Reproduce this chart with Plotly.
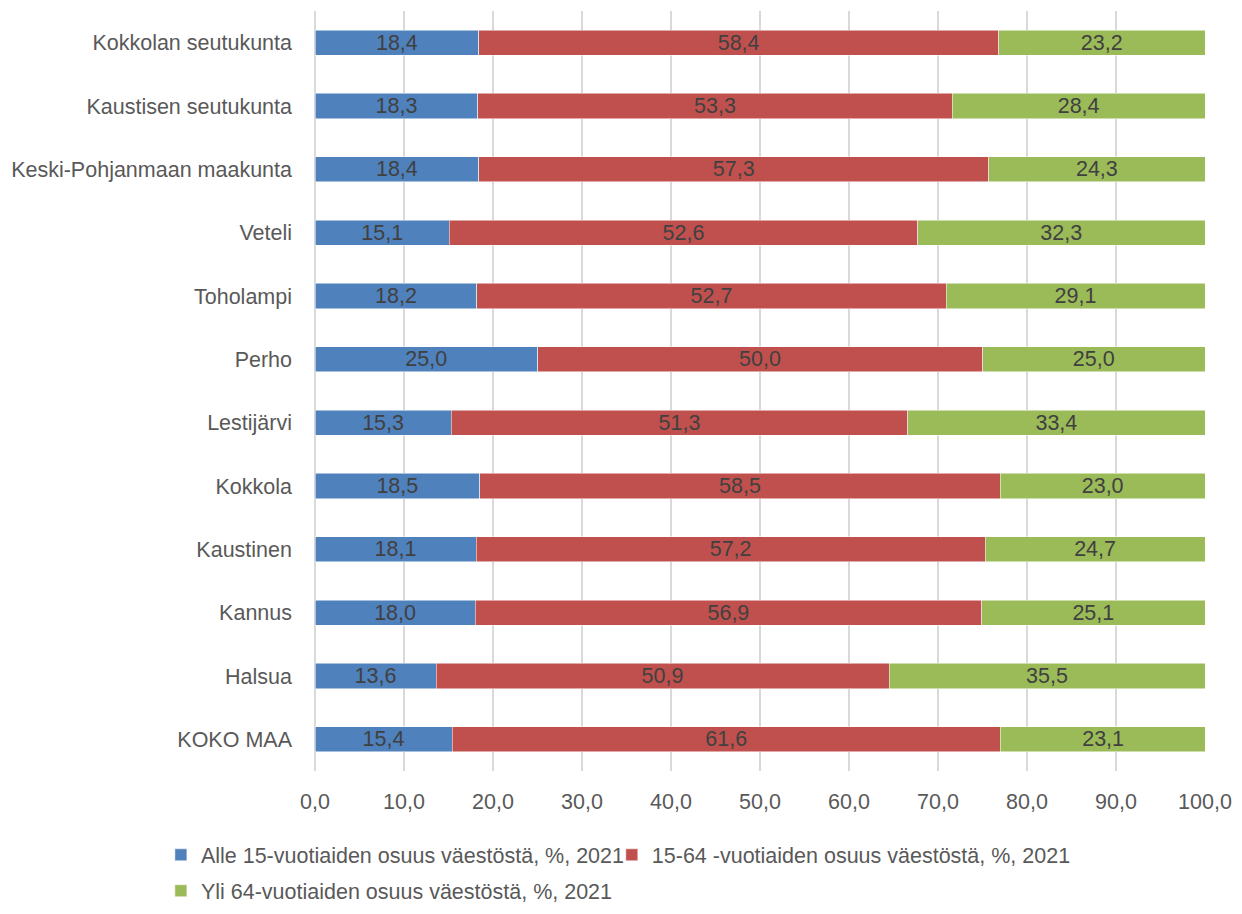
import plotly.graph_objects as go

categories = ["Kokkolan seutukunta", "Kaustisen seutukunta", "Keski-Pohjanmaan maakunta",
              "Veteli", "Toholampi", "Perho", "Lestijärvi", "Kokkola", "Kaustinen",
              "Kannus", "Halsua", "KOKO MAA"]
alle15 = [18.4, 18.3, 18.4, 15.1, 18.2, 25.0, 15.3, 18.5, 18.1, 18.0, 13.6, 15.4]
v15_64 = [58.4, 53.3, 57.3, 52.6, 52.7, 50.0, 51.3, 58.5, 57.2, 56.9, 50.9, 61.6]
yli64 = [23.2, 28.4, 24.3, 32.3, 29.1, 25.0, 33.4, 23.0, 24.7, 25.1, 35.5, 23.1]
series_names = ["Alle 15-vuotiaiden osuus väestöstä, %, 2021",
                "15-64 -vuotiaiden osuus väestöstä, %, 2021",
                "Yli 64-vuotiaiden osuus väestöstä, %, 2021"]
colors = ["#4f81bd", "#c0504d", "#9bbb59"]
legend_ids = ["legend", "legend2", "legend3"]

FONT = "Liberation Sans, Arial"
FS = 21.5

fig = go.Figure()
for name, vals, col, lg in zip(series_names, [alle15, v15_64, yli64], colors, legend_ids):
    fig.add_trace(go.Bar(
        y=categories, x=vals, name=name, orientation="h", legend=lg,
        marker=dict(color=col, line=dict(color="white", width=0.5)),
        text=vals, texttemplate="%{x:.1f}", textposition="inside",
        insidetextanchor="middle", textangle=0, constraintext="none",
        textfont=dict(color="#404040", size=FS, family=FONT),
    ))

legend_common = dict(orientation="h", xanchor="left", yanchor="middle",
                     xref="container", yref="container",
                     font=dict(size=FS, color="#595959", family=FONT),
                     bgcolor="rgba(0,0,0,0)", itemwidth=30, traceorder="normal")

fig.update_layout(
    barmode="stack", bargap=0.605,
    separators=", ",
    width=1226, height=898,
    margin=dict(l=307, r=29, t=3, b=135, autoexpand=False),
    plot_bgcolor="white", paper_bgcolor="white",
    font=dict(family=FONT, size=FS, color="#595959"),
    xaxis=dict(range=[0, 100], dtick=10, tickformat=".1f", showgrid=True,
               gridcolor="#d9d9d9", gridwidth=1.5, zeroline=True, zerolinecolor="#d9d9d9",
               zerolinewidth=1.5, ticks="", ticklabelstandoff=15, automargin=False,
               tickfont=dict(size=FS, color="#595959")),
    yaxis=dict(autorange="reversed", ticks="", ticklabelstandoff=22, automargin=False,
               tickfont=dict(size=FS, color="#595959")),
    legend=dict(x=0.1247, y=0.057, **legend_common),
    legend2=dict(x=0.4925, y=0.057, **legend_common),
    legend3=dict(x=0.1247, y=0.017, **legend_common),
    showlegend=True,
)
fig.write_html("out.html")
